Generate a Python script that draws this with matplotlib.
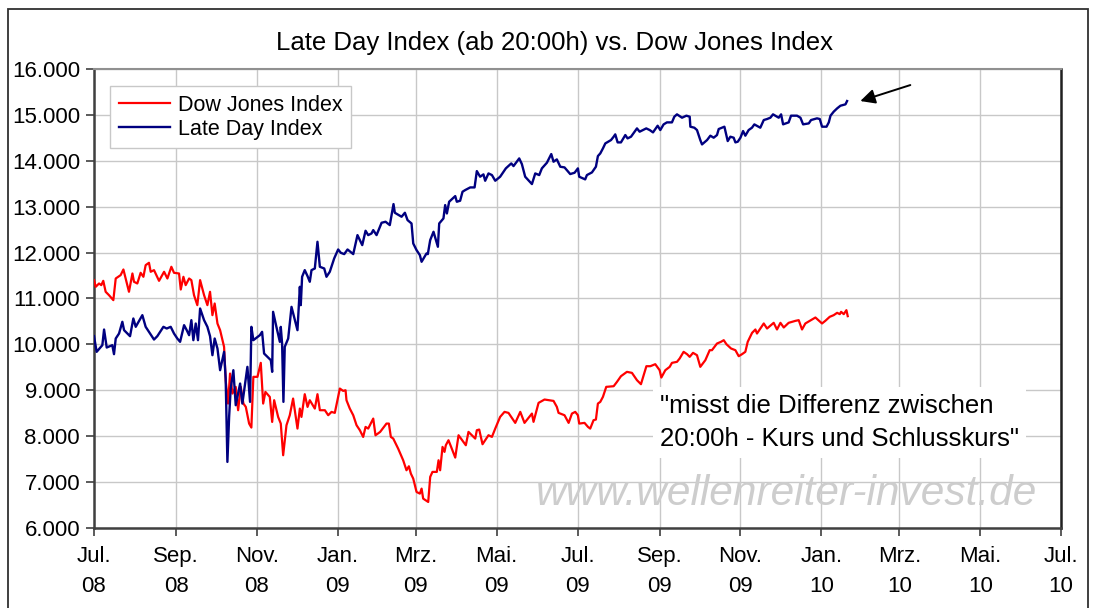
import numpy as np
import pandas as pd
import matplotlib
matplotlib.use('Agg')
import matplotlib.pyplot as plt
from matplotlib.patches import Rectangle
from matplotlib.ticker import FuncFormatter

plt.rcParams['font.family'] = ['Liberation Sans', 'DejaVu Sans']

# data (days since 2008-07-01, index level)
start = '2008-07-01'

dow_day = [0, 1.3, 3.8, 5.5, 7, 8.8, 11.3, 14.6, 16.4, 20.1, 22.2, 23.9, 26.4, 29, 30.2, 32.7, 35.2,
           37.3, 39, 41.5, 42.8, 45.3, 49.1, 52.9, 55.4, 58.4, 60.4, 64.2, 65.5, 67.5, 69.2, 71.8,
           73.5, 75.5, 78, 80.1, 83.1, 85.6, 87.6, 89.4, 91.1, 93.2, 95.2, 98.2, 99.4, 101.2, 102.7,
           104.5, 107, 108.8, 110.8, 112.8, 114.6, 117.1, 118.8, 120.3, 123.4,
           125.9, 127.7, 129.4, 132.7, 134.5, 136, 139, 141, 142.8, 145.3, 147.8, 150.3, 153.6,
           155.4, 156.6, 159.1, 161.2, 162.9, 166.7, 168.7, 170.5, 174.3, 176.8, 179.3, 181.8,
           184.3, 185.6, 188.1, 189.9, 190.6, 193.1, 195.7, 198.2, 200.7, 203.2, 205, 207, 210.8,
           212.5, 216, 220.8, 222.6, 224.1, 225.9, 229.6, 233.4, 235.9, 237.7, 239.2, 241, 243.5,
           246, 247.3, 248.5, 252.3,
           253.8, 255.5, 258.8, 260.1, 261.3, 263.1, 264.6, 265.6, 267.6, 269.6, 272.7, 275.2,
           280.7, 282.7, 287.8, 289, 290.8, 293.3, 297.8, 300.4, 302.9, 306.6, 309.9, 312.9, 318,
           321.8, 325, 330.6, 331.8, 335.6, 340.1, 346.9, 349.4, 350.7, 355.2, 358.3, 360.8, 363.3,
           365.3, 366.3, 370.3, 372.9, 374.6, 377.1, 378.9, 380.4,
           382.2, 384.2, 386.7, 392.3, 394.8, 397.8, 402.3, 406.1, 409.9, 412.9, 417, 420, 423.7,
           427, 428.3, 431.3, 434.6, 436.3, 440.1, 442.1, 445.1, 447.7, 449.7, 452.2, 455.2, 457.7,
           461.5, 464.8, 466.5, 470.3, 473.3, 475.4, 477.4, 480.9, 484.2, 486.7, 489.2, 491.7,
           493.5, 496.8, 499.3, 500.5, 503, 505.6, 508.1, 513.1, 515.6, 518.2, 520.7, 524.4, 529.5,
           532, 534.5, 537, 542.1, 544.6, 549.6, 552.1, 555.4, 558.4, 561, 563, 564, 566, 568, 569]
dow_val = [11400, 11255, 11327, 11291, 11385, 11146, 11073, 10964, 11436, 11509, 11632, 11436, 11146,
           11545, 11364, 11327, 11560, 11473, 11727, 11778, 11582, 11618, 11385, 11582, 11436, 11691,
           11560, 11545, 11196, 11473, 11291, 11436, 11400, 11073, 10855, 11400, 11073, 10855, 11146,
           10637, 10891, 10455, 10310, 9946, 9220, 8711, 9365, 8929, 9074, 8566, 9074, 8711, 8638,
           8275, 8188, 9293, 9293,
           9598, 8711, 8965, 8856, 8311, 8784, 8420, 8275, 7585, 8239, 8457, 8820, 8166, 8602, 8420,
           8915, 8638, 8784, 8602, 8915, 8566, 8566, 8457, 8529, 8508, 8856, 9038, 8987, 9002, 8784,
           8602, 8457, 8239, 8130, 7984, 8202, 8166, 8384, 8020, 8093, 8275, 8275, 7984, 7948, 7730,
           7476, 7258, 7345, 7185, 7076, 6785, 6749, 6858, 6640, 6567,
           7113, 7222, 7222, 7476, 7258, 7767, 7658, 7803, 7912, 7767, 7534, 8021, 7803, 8094, 7948,
           8130, 8145, 7825, 8021, 7985, 8166, 8421, 8530, 8508, 8290, 8530, 8290, 8493, 8312, 8726,
           8799, 8769, 8639, 8508, 8457, 8290, 8493, 8530, 8457, 8275, 8290, 8203, 8166, 8348, 8363,
           8711,
           8748, 8857, 9075, 9089, 9184, 9307, 9402, 9380, 9220, 9133, 9525, 9525, 9569, 9438, 9278,
           9438, 9511, 9598, 9620, 9692, 9838, 9787, 9729, 9816, 9765, 9511, 9656, 9874, 9874, 10019,
           10056, 10092, 10005, 9911, 9874, 9743, 9787, 9838, 10056, 10252, 10325, 10237, 10346,
           10456, 10346, 10470, 10325, 10470, 10368, 10470, 10513, 10528, 10325, 10456, 10543, 10586,
           10456, 10514, 10601, 10637, 10688, 10659, 10710, 10659, 10746, 10615]

ldi_day = [0, 2, 6.3, 7.6, 9.6, 13.8, 15.1, 16.4, 18.9, 21.4, 22.7, 27.2, 29.7, 31.5, 36.5, 39, 45.3,
           47.8, 52.4, 54.9, 57.9, 60.4, 62.9, 65, 68, 70, 71.8, 73.5, 75, 76.8, 78.5, 80.1, 83.1,
           85.6, 87.6, 89.4, 91.1, 93.2, 95.2, 98.2, 99.4, 100.7, 102, 103.2, 105.2, 107, 110.3, 112,
           115.8, 117.8, 118.8, 120.3,
           125.2, 126.9, 128.4, 133.5, 134.5, 135.2, 137.7, 140.3, 141, 142, 143, 144, 146.6, 149.1,
           153.6, 155.4, 156.1, 157.1, 159.1, 161.2, 162.9, 164.2, 166.7, 168.7, 170.5, 173.8, 175.5,
           178, 181.3, 184.3, 186.3, 188.9, 191.4, 195.7, 198.9, 200.7, 202.5, 205, 207, 209.5, 210.8,
           213.3, 217.1, 220.1, 223.3, 226.1, 227.1, 232.2, 234.7, 236.7, 239.7, 241, 243.5, 246,
           247.3, 251,
           252, 253.8, 256.3, 259.6, 260.6, 263.8, 265.1, 266.4, 268.1, 272.7, 273.9, 276.4, 278.2,
           280.2, 284, 287.3, 289, 291.5, 294, 295.3, 297.8, 300.4, 302.9, 306.6, 309.2, 310.9, 315,
           316.7, 319.2, 321, 323, 325.5, 330.6, 333.1, 336.1, 338.1, 341.9, 345.2, 346.9, 349.4, 352,
           355.2, 359.5, 362.8, 365.3, 366.3, 370.8, 372.1, 375.9, 378.9, 380.4,
           382.2, 384.2, 386, 390.3, 392.3, 393.5, 395.3, 397.8, 401.1, 402.8, 405.4, 409.9, 411.9,
           416.9, 419.5, 422, 424.5, 425.5, 427.5, 430, 432.5, 436.3, 438.1, 440.1, 443.9, 447.2,
           449.7, 450.2, 453.2, 455.2, 457.7, 459, 462.8, 465.3, 467.8, 470.3, 471.6, 475.9, 477.4,
           478.4, 480.4, 482.9, 484.2, 486, 488, 490, 491.7, 494.2, 496.7, 498.5, 503, 505.6, 508.1,
           510.6, 512.6, 516.9, 518.7, 520.2, 524.4, 526.2, 530.7, 533.3, 535.3, 539.6, 541.3, 545.8,
           547.9, 549.6, 553, 554.7, 556, 558.4, 561, 563.5, 567.3, 568.5]
ldi_val = [10179, 9838, 9983, 10324, 9932, 9983, 9787, 10128, 10237, 10492, 10310, 10179, 10564, 10383,
           10637, 10383, 10106, 10179, 10383, 10346, 10383, 10237, 10128, 10056, 10419, 10310, 10201,
           10528, 10092, 10455, 10092, 10782, 10528, 10383, 10179, 9765, 10128, 9910, 9438, 9838, 9256,
           7440, 8421, 9038, 9438, 8675, 9147, 8711, 9511, 8748, 10383, 10092,
           10201, 10274, 9801, 9656, 9402, 10710, 10382, 10056, 10382, 10019, 8748, 9947, 10128, 10818,
           10310, 11255, 10855, 11473, 11618, 11487, 11364, 11618, 11654, 12236, 11691, 11654, 11473,
           11582, 11872, 12068, 11996, 11967, 12068, 11967, 12381, 12272, 12163, 12476, 12381, 12417,
           12490, 12381, 12650, 12672, 12599, 13057, 12868, 12781, 12868, 12708, 12635, 12199, 12054,
           11945, 11800, 11981,
           11967, 12272, 12454, 12127, 12635, 12744, 13035, 12853, 13108, 13231, 13108, 13130, 13326,
           13362, 13420, 13420, 13776, 13653, 13704, 13565, 13725, 13689, 13565, 13653, 13762, 13835,
           13943, 13885, 13980, 14052, 13929, 13653, 13493, 13725, 13689, 13835, 13958, 14147, 13980,
           14031, 13871, 13856, 13711, 13740, 13835, 13653, 13595, 13689, 13747, 13871, 14103,
           14161, 14270, 14379, 14452, 14525, 14576, 14401, 14401, 14561, 14488, 14525, 14706, 14634,
           14706, 14670, 14619, 14721, 14764, 14670, 14793, 14837, 14837, 14961, 15012, 14939, 14983,
           14961, 14743, 14721, 14670, 14452, 14357, 14452, 14547, 14503, 14561, 14692, 14743, 14561,
           14430, 14525, 14503, 14401, 14416, 14503, 14648, 14547, 14670, 14721, 14793, 14721, 14888,
           14910, 14939, 15012, 14939, 15012, 14794, 14837, 14983, 14983, 14939, 14794, 14815, 14888,
           14925, 14910, 14743, 14743, 14837, 14983, 15070, 15142, 15200, 15230, 15302]

tick_dates = ['2008-07-01', '2008-09-01', '2008-11-01', '2009-01-01', '2009-03-01', '2009-05-01',
              '2009-07-01', '2009-09-01', '2009-11-01', '2010-01-01', '2010-03-01', '2010-05-01',
              '2010-07-01']
tick_labels = ['Jul.\n08', 'Sep.\n08', 'Nov.\n08', 'Jan.\n09', 'Mrz.\n09', 'Mai.\n09', 'Jul.\n09',
               'Sep.\n09', 'Nov.\n09', 'Jan.\n10', 'Mrz.\n10', 'Mai.\n10', 'Jul.\n10']
y_ticks = [6000, 7000, 8000, 9000, 10000, 11000, 12000, 13000, 14000, 15000, 16000]

t0 = pd.Timestamp(start)
dow_x = t0 + pd.to_timedelta(dow_day, unit='D')
ldi_x = t0 + pd.to_timedelta(ldi_day, unit='D')

# plot
fig = plt.figure(figsize=(10.94, 6.08), dpi=100)
ax = fig.add_axes([94 / 1094, 1 - 528 / 608, 967 / 1094, 459 / 608])

# outer frame of the picture
fig.patches.append(Rectangle((8 / 1094, -0.1), 1080 / 1094, 1.1 - 9 / 608, transform=fig.transFigure,
                             fill=False, edgecolor='#303030', linewidth=1.3))

ax.plot(dow_x, dow_val, color='#ff0000', lw=1.6, label='Dow Jones Index', zorder=3)
ax.plot(ldi_x, ldi_val, color='#000080', lw=1.7, label='Late Day Index', zorder=4)

ax.set_xlim(pd.Timestamp(tick_dates[0]), pd.Timestamp(tick_dates[-1]))
ax.set_ylim(y_ticks[0], y_ticks[-1])
ax.set_xticks(pd.to_datetime(tick_dates))
ax.set_xticklabels(tick_labels, linespacing=1.55)
ax.set_yticks(y_ticks)
ax.yaxis.set_major_formatter(FuncFormatter(lambda v, p: f'{v:,.0f}'.replace(',', '.')))
ax.tick_params(labelsize=16, length=6, width=1.2, color='#404040', pad=4)
ax.tick_params(axis='x', pad=7)
ax.grid(True, color='#c8c8c8', lw=1.0)
ax.set_axisbelow(True)
for side in ['left', 'bottom']:
    ax.spines[side].set_color('#404040')
    ax.spines[side].set_linewidth(1.8)
ax.spines['top'].set_color('#909090')
ax.spines['top'].set_linewidth(1.5)
ax.spines['right'].set_color('#202020')
ax.spines['right'].set_linewidth(1.8)

fig.text(555 / 1094, 1 - 43 / 608, 'Late Day Index (ab 20:00h) vs. Dow Jones Index',
         ha='center', va='center', fontsize=18.5)

leg = ax.legend(loc='upper left', bbox_to_anchor=(0.0165, 0.963), borderaxespad=0, fontsize=15.5,
                fancybox=False, framealpha=1, edgecolor='#c8c8c8', handlelength=2.4,
                handletextpad=0.35, labelspacing=0.15, borderpad=0.4)
leg.get_frame().set_linewidth(1.0)

ax.text(0.5853, 0.292, '"misst die Differenz zwischen\n20:00h - Kurs und Schlusskurs"',
        transform=ax.transAxes, ha='left', va='top', fontsize=18.5, linespacing=1.5, zorder=5,
        bbox=dict(facecolor='white', edgecolor='none', pad=5))

ax.text(0.7166, 0.0735, 'www.wellenreiter-invest.de', transform=ax.transAxes, ha='center',
        va='center', fontsize=30.5, style='italic', color='#cdcdcd', zorder=2)

# arrow pointing at the last value of the Late Day Index
ax.annotate('', xy=(ldi_x[-1] + pd.Timedelta(days=10), ldi_val[-1]), xytext=(36, 11.5),
            textcoords='offset points',
            arrowprops=dict(arrowstyle='-|>', mutation_scale=22, lw=1.4, color='black',
                            shrinkA=0, shrinkB=0))

plt.savefig('out.png', dpi=100)
